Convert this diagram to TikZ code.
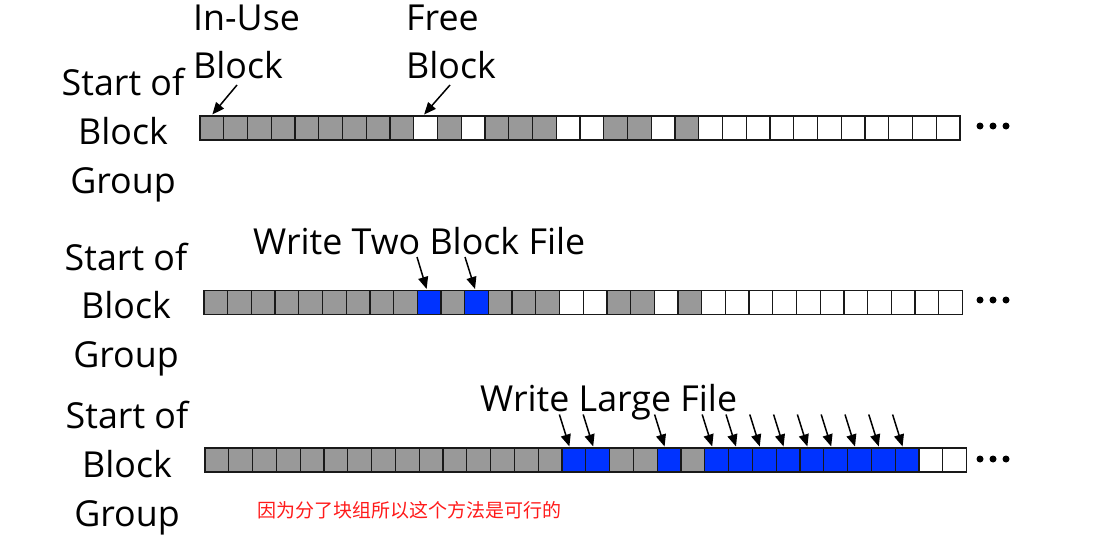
\documentclass[tikz,border=0pt]{standalone}
\usepackage{fontspec}
\setmainfont{Open Sans}
\newfontfamily\cjkfont{Noto Sans CJK SC}
\usetikzlibrary{arrows.meta,calc}
\definecolor{fillg}{HTML}{999999}
\definecolor{fillb}{HTML}{0033FF}
\definecolor{fillw}{HTML}{FFFFFF}
\definecolor{redtxt}{HTML}{FF1A1A}
\begin{document}
\begin{tikzpicture}[x=1pt,y=-1pt,
  blk/.style={draw=black!90,line width=1.3pt,inner sep=0pt,minimum width=23.75pt,minimum height=23.75pt},
  lbl/.style={font=\fontsize{35.8}{42}\selectfont,inner sep=0pt,anchor=base},
  lblw/.style={lbl,anchor=base west},
  ptr/.style={line width=1.5pt,-{Triangle[length=12pt,width=10pt]}},
  dotc/.style={circle,fill=black,inner sep=0pt,minimum size=7pt}]
\useasboundingbox (0,0) rectangle (1094,543);
% Row 1
\foreach \c [count=\i from 0] in {g,g,g,g,g,g,g,g,g,w,g,w,g,g,g,w,w,g,g,w,g,w,w,w,w,w,w,w,w,w,w,w}
  \node[blk,fill=fill\c] (ra\i) at (200+11.875+\i*23.75,128) {};
% Row 2
\foreach \c [count=\i from 0] in {g,g,g,g,g,g,g,g,g,b,g,b,g,g,g,w,w,g,g,w,g,w,w,w,w,w,w,w,w,w,w,w}
  \node[blk,fill=fill\c] (rb\i) at (204+11.85+\i*23.7,302.5) {};
% Row 3
\foreach \c [count=\i from 0] in {g,g,g,g,g,g,g,g,g,g,g,g,g,g,g,b,b,g,g,b,g,b,b,b,b,b,b,b,b,b,w,w}
  \node[blk,fill=fill\c] (rc\i) at (205+11.9+\i*23.8,460) {};
% dots
\foreach \r/\y in {a/126,b/300,c/459}
  \foreach \k in {0,1,2}
    \node[dotc] (dot\r\k) at (980+\k*13,\y) {};
% left labels
\foreach \r/\x/\ya/\yb/\yc in {a/123/95/144/193, b/126/270/318/367, c/127/428/477/526}{
  \node[lbl] (s\r1) at (\x,\ya) {Start of};
  \node[lbl] (s\r2) at (\x,\yb) {Block};
  \node[lbl] (s\r3) at (\x,\yc) {Group};
}
% top labels
\node[lblw] (inuse) at (193,31) {In-Use};
\node[lblw] (inuseb) at (193,78) {Block};
\node[lblw] (free) at (406,31) {Free};
\node[lblw] (freeb) at (406,78) {Block};
\node[lblw] (wtwo) at (253,254) {Write Two Block File};
\node[lblw] (wlarge) at (480,411) {Write Large File};
\node[anchor=base west,inner sep=0pt,text=redtxt,font=\cjkfont\fontsize{19}{22}\selectfont] (note) at (257,517) {因为分了块组所以这个方法是可行的};
% arrows row 1
\coordinate (ta1) at (237,85);
\coordinate (ta2) at (450,85);
\draw[ptr] (ta1) -- ($(ra0.north west)+(13,-1)$);
\draw[ptr] (ta2) -- ($(ra9.north west)+(11,-1)$);
% arrows row 2
\coordinate (tb1) at (417,257);
\coordinate (tb2) at (465,257);
\draw[ptr] (tb1) -- ($(rb9.north west)+(10,-1)$);
\draw[ptr] (tb2) -- ($(rb11.north west)+(11,-1)$);
% arrows row 3
\foreach \i in {15,16,19,21,22,23,24,25,26,27,28,29}{
  \coordinate (tc\i) at ($(rc\i.north west)+(-2,-33)$);
  \draw[ptr] (tc\i) -- ($(rc\i.north west)+(8,-1)$);
}
\end{tikzpicture}
\end{document}
